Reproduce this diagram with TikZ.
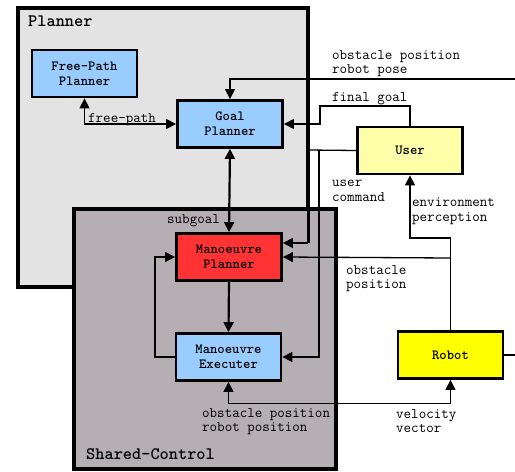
\documentclass[tikz,border=0pt]{standalone}
\usepackage{fontspec}
\usetikzlibrary{arrows.meta}
\definecolor{plannerbg}{HTML}{E3E3E3}
\definecolor{sharedbg}{HTML}{B5AEB3}
\definecolor{lblue}{HTML}{99CCFF}
\definecolor{mred}{HTML}{FF3333}
\definecolor{uyellow}{HTML}{FFFFAA}
\definecolor{ryellow}{HTML}{FFFF00}
\begin{document}
\begin{tikzpicture}[x=1pt,y=-1pt,
  box/.style={draw,line width=2.8pt,minimum width=105pt,minimum height=47pt,inner sep=0pt,
    font=\ttfamily\bfseries\fontsize{14}{15}\selectfont,align=center},
  lab/.style={font=\ttfamily\fontsize{14.6}{14.5}\selectfont,align=left,inner sep=0pt,anchor=north west},
  ttl/.style={font=\ttfamily\bfseries\fontsize{17.5}{18}\selectfont,inner sep=0pt,anchor=north west},
  con/.style={line width=1.3pt},
  tk/.style={line width=2.2pt},
  >={Triangle[width=10pt,length=10pt]}]
\useasboundingbox (0,0) rectangle (515,472);
% container boxes
\draw[line width=3.5pt,fill=plannerbg] (18,8) rectangle (308,287);
\draw[line width=3.5pt,fill=sharedbg] (74,209) rectangle (336,469);
\node[ttl] (tplanner) at (28,16) {Planner};
\node[ttl] (tshared) at (86,448) {Shared-Control};
% blocks
\node[box,fill=lblue] (fp) at (84.5,73.5) {Free-Path\\Planner};
\node[box,fill=lblue] (goal) at (230,124) {Goal\\Planner};
\node[box,fill=mred] (mp) at (229,257) {Manoeuvre\\Planner};
\node[box,fill=lblue] (me) at (228.5,357) {Manoeuvre\\Executer};
\node[box,fill=uyellow] (user) at (410,150.5) {User};
\node[box,fill=ryellow] (robot) at (450.5,355) {Robot};
% free ends
\coordinate (opin) at (515,79);
\coordinate (rout) at (515,355);
% connectors
\draw[con,<->] (fp.south) |- (goal.west);
\node[lab] (lfree) at (88,113) {free-path};
\draw[con,->] (opin) -| (goal.north);
\node[lab] (lobs1) at (332,50) {obstacle position\\robot pose};
\draw[con,->] (user.north) -- (410,106) -- (320,106) -- (320,124) -- (goal.east);
\node[lab] (lfinal) at (332,92) {final goal};
% user command
\draw[con] (user.west) -- (308,150);
\draw[line width=3pt] (308,150) -- (308,243);
\draw[con,->] (308,243) -- ([yshift=14pt]mp.east);
\draw[con,->] (319,150) -- (319,357) -- (me.east);
\node[lab] (lucmd) at (332,180) {user\\command};
% environment perception
\draw[con,->] (robot.north) -- (450.5,238) -- (410,238) -- (user.south);
\node[lab] (lenv) at (412,198) {environment\\perception};
\draw[con,->] (450.5,258) -- (mp.east);
\node[lab] (lobs2) at (346,265) {obstacle\\position};
% velocity
\draw[con,<->] (me.south) -- ++(0,21.5) -| (robot.south);
\node[lab] (lobs3) at (202,408) {obstacle position\\robot position};
\node[lab] (lvel) at (396,409) {velocity\\vector};
\draw[con] (robot.east) -- (rout);
% internal
\draw[tk,<->] (goal.south) -- (mp.north);
\node[lab] (lsub) at (167,214) {subgoal};
\draw[tk,->] (mp.south) -- (me.north);
\draw[con,->] (me.west) -- (155,357) -- (155,257) -- (mp.west);
\end{tikzpicture}
\end{document}
